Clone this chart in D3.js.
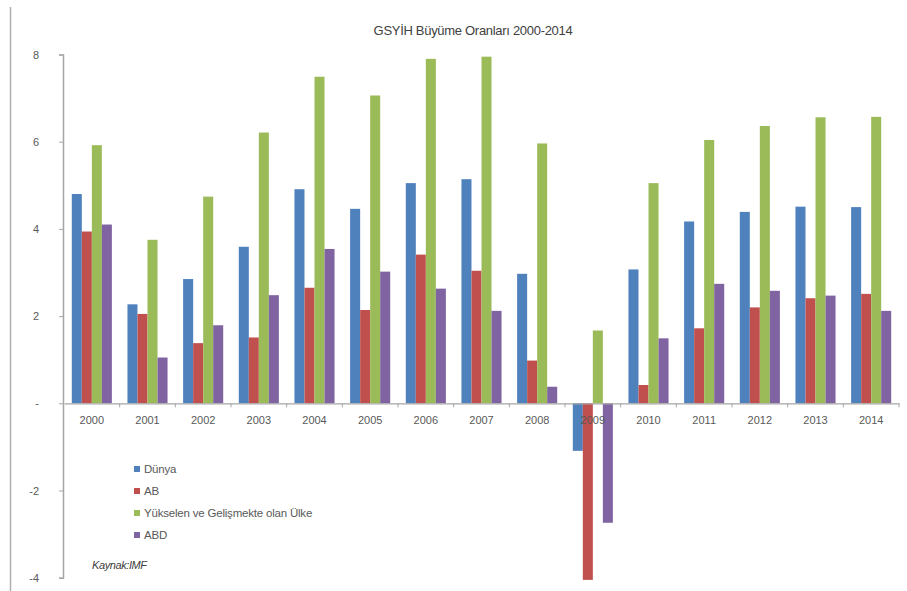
<!DOCTYPE html>
<html>
<head>
<meta charset="utf-8">
<script src="https://cdn.jsdelivr.net/npm/d3@7"></script>
<style>
  html, body { margin: 0; padding: 0; background: #fff; }
  svg { display: block; font-family: "Liberation Sans", Arial, sans-serif; }
</style>
</head>
<body>
<svg id="chart" width="907" height="591"></svg>
<script>
// GDP growth rates, 2000–2014 (%)
const years = ["2000","2001","2002","2003","2004","2005","2006","2007","2008","2009","2010","2011","2012","2013","2014"];
const seriesNames = ["Dünya", "AB", "Yükselen ve Gelişmekte olan Ülke", "ABD"];
const dunya    = [4.80, 2.27, 2.85, 3.59, 4.91, 4.46, 5.05, 5.14, 2.97, -1.09, 3.07, 4.17, 4.39, 4.51, 4.50];
const ab       = [3.94, 2.05, 1.38, 1.51, 2.65, 2.14, 3.41, 3.04, 0.98, -4.05, 0.42, 1.72, 2.20, 2.41, 2.51];
const yukselen = [5.92, 3.75, 4.74, 6.21, 7.49, 7.06, 7.90, 7.95, 5.96, 1.67, 5.05, 6.04, 6.36, 6.56, 6.57];
const abd      = [4.10, 1.05, 1.79, 2.48, 3.54, 3.02, 2.63, 2.12, 0.38, -2.74, 1.49, 2.74, 2.58, 2.47, 2.12];
const yTicks = [-4, -2, 0, 2, 4, 6, 8];
const yTickLabels = ["-4", "-2", "-", "2", "4", "6", "8"];
const colors = ["#4F81BD", "#C0504D", "#9BBB59", "#8064A2"];
const titleText = "GSYİH Büyüme Oranları 2000-2014";
const sourceText = "Kaynak:IMF";

const allSeries = [dunya, ab, yukselen, abd];
const svg = d3.select("#chart");
const textColor = "#595959";

// Outer frame edge on the left
svg.append("line")
  .attr("x1", 10.5).attr("x2", 10.5).attr("y1", 7).attr("y2", 591)
  .attr("stroke", "#b0b0b0").attr("stroke-width", 1.5);

const x0 = d3.scaleBand().domain(years).range([64, 899]).paddingInner(0.28).paddingOuter(0.14);
const x1 = d3.scaleBand().domain(d3.range(4)).range([0, x0.bandwidth()]);
const xCat = d3.scaleBand().domain(years).range([64, 899]);
const y = d3.scaleLinear().domain([-4, 8]).range([577.7, 54.5]);

// Title
svg.append("text")
  .attr("x", 473).attr("y", 35)
  .attr("text-anchor", "middle")
  .attr("font-size", 13)
  .attr("letter-spacing", -0.3)
  .attr("fill", "#404040")
  .text(titleText);

// Bars
const groups = svg.append("g").selectAll("g")
  .data(years)
  .join("g")
  .attr("transform", d => `translate(${x0(d)},0)`);

groups.selectAll("rect")
  .data((yr, i) => allSeries.map((s, k) => ({ k, v: s[i] })))
  .join("rect")
  .attr("x", d => x1(d.k))
  .attr("width", x1.bandwidth())
  .attr("y", d => y(Math.max(0, d.v)))
  .attr("height", d => Math.abs(y(d.v) - y(0)))
  .attr("fill", d => colors[d.k]);

// Y axis
const yAxis = svg.append("g")
  .attr("transform", "translate(63,0)")
  .call(d3.axisLeft(y).tickValues(yTicks).tickSize(4).tickPadding(20)
    .tickFormat((d, i) => yTickLabels[yTicks.indexOf(d)]));
yAxis.select(".domain").attr("stroke", "#a6a6a6").attr("stroke-width", 1.5);
yAxis.selectAll(".tick line").attr("stroke", "#a6a6a6");
yAxis.selectAll(".tick text").attr("fill", textColor).attr("font-size", 11)
  .attr("font-family", "Liberation Sans, Arial, sans-serif");

// X axis at zero, labels below the line
const xAxis = svg.append("g")
  .attr("transform", `translate(0,${y(0)})`)
  .call(d3.axisBottom(xCat).tickSize(0).tickPadding(13));
xAxis.select(".domain").attr("stroke", "#a6a6a6").attr("stroke-width", 1.2);
xAxis.selectAll(".tick text").attr("fill", textColor).attr("font-size", 11)
  .attr("font-family", "Liberation Sans, Arial, sans-serif");
// Category boundary tick marks
xAxis.selectAll("line.bnd")
  .data(years.slice(1).concat(["end"]))
  .join("line")
  .attr("class", "bnd")
  .attr("x1", (d, i) => xCat(years[i]) + xCat.bandwidth())
  .attr("x2", (d, i) => xCat(years[i]) + xCat.bandwidth())
  .attr("y1", 0).attr("y2", 4)
  .attr("stroke", "#a6a6a6");

// Legend
const legend = svg.append("g").attr("transform", "translate(134,469)");
const li = legend.selectAll("g").data(seriesNames).join("g")
  .attr("transform", (d, i) => `translate(0,${i * 22})`);
li.append("rect").attr("x", 0).attr("y", -3).attr("width", 6).attr("height", 6)
  .attr("fill", (d, i) => colors[i]);
li.append("text").attr("x", 10).attr("y", 4)
  .attr("font-size", 11.5).attr("fill", textColor).attr("letter-spacing", -0.2)
  .text(d => d);

// Source note
svg.append("text")
  .attr("x", 92).attr("y", 569)
  .attr("font-size", 11).attr("font-style", "italic").attr("fill", "#404040")
  .attr("letter-spacing", -0.4)
  .text(sourceText);
</script>
</body>
</html>
